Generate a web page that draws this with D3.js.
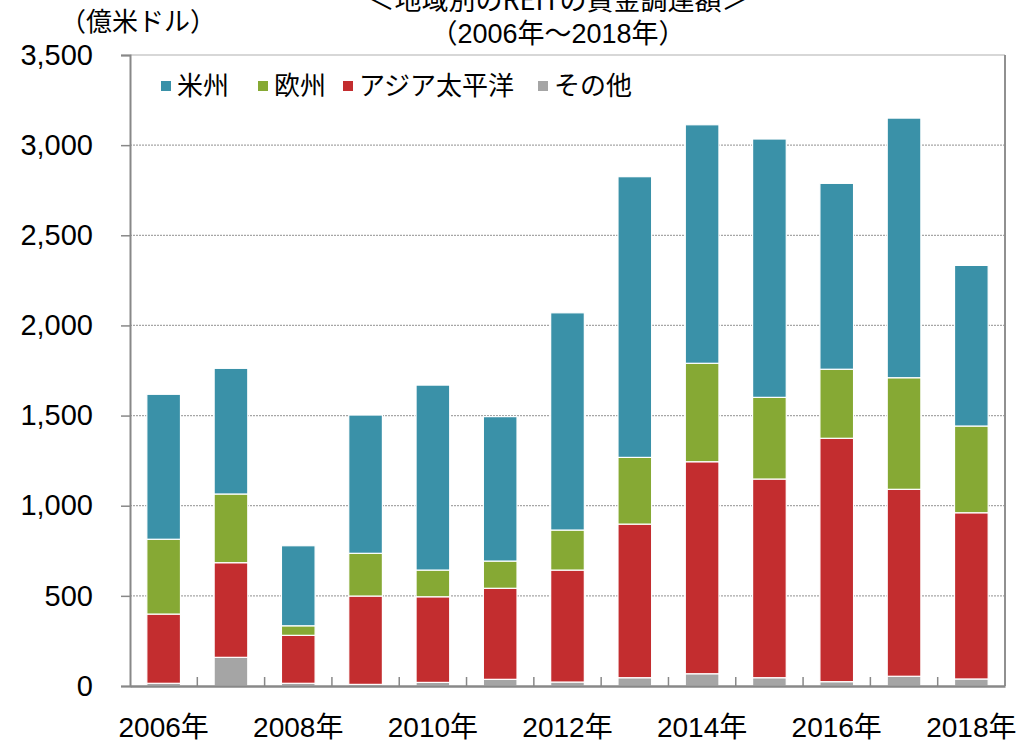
<!DOCTYPE html>
<html><head><meta charset="utf-8">
<script src="https://cdn.jsdelivr.net/npm/d3@7"></script>
<style>
body{margin:0;background:#fff;}
text{font-family:"Liberation Sans","Noto Sans CJK JP",sans-serif;fill:#000;}
.jp{font-family:"Noto Sans CJK JP","Liberation Sans",sans-serif;}
</style></head>
<body><svg id="c" width="1019" height="742"></svg>
<script>
const years = ["2006","2007","2008","2009","2010","2011","2012","2013","2014","2015","2016","2017","2018"];
const seriesNames = ["その他","アジア太平洋","欧州","米州"];
const other    = [15,159,15,9,20,37,22,46,68,46,24,54,39];
const apac     = [384,525,266,490,475,505,621,852,1176,1102,1350,1037,922];
const europe   = [415,381,53,237,148,151,222,370,546,453,383,619,481];
const americas = [804,697,444,767,1026,801,1205,1557,1323,1433,1031,1440,891];
const colors = ["#A5A5A5","#C32D2F","#86A934","#3A91A8"];
const yTicks = [0,500,1000,1500,2000,2500,3000,3500];
const xLabelYears = ["2006","2008","2010","2012","2014","2016","2018"];
const legendOrder = ["米州","欧州","アジア太平洋","その他"];

const svg = d3.select("#c");
const L=130,R=1005,T=55,B=686;
const x = d3.scaleBand().domain(years).range([L,R]).paddingInner(0.5).paddingOuter(0.25);
const y = d3.scaleLinear().domain([0,3500]).range([B,T]);

const rows = years.map((yr,i)=>({year:yr,"その他":other[i],"アジア太平洋":apac[i],"欧州":europe[i],"米州":americas[i]}));
const stack = d3.stack().keys(seriesNames)(rows);

// gridlines
svg.append("g").selectAll("line").data(yTicks.filter(v=>v>0&&v<3500)).join("line")
  .attr("x1",L).attr("x2",R).attr("y1",d=>y(d)).attr("y2",d=>y(d))
  .attr("stroke","#a6a6a6").attr("stroke-width",1.2).attr("stroke-dasharray","2,1");
// frame
svg.append("line").attr("x1",L).attr("x2",R).attr("y1",T).attr("y2",T).attr("stroke","#b0b0b0").attr("stroke-width",1.2);
svg.append("line").attr("x1",R).attr("x2",R).attr("y1",T).attr("y2",B).attr("stroke","#909090").attr("stroke-width",2);

// bars
svg.append("g").selectAll("g").data(stack).join("g")
  .attr("fill",(d,i)=>colors[i])
  .selectAll("rect").data(d=>d).join("rect")
  .attr("x",d=>x(d.data.year)).attr("width",x.bandwidth())
  .attr("y",d=>y(d[1])).attr("height",d=>y(d[0])-y(d[1]))
  .attr("stroke","#fff").attr("stroke-width",1.2);

// y axis
const ya = svg.append("g").attr("transform",`translate(${L},0)`)
  .call(d3.axisLeft(y).tickValues(yTicks).tickFormat(d3.format(",")).tickSize(9).tickPadding(28));
ya.select(".domain").attr("stroke","#888").attr("stroke-width",2);
ya.selectAll(".tick line").attr("stroke","#888").attr("stroke-width",1.5);
ya.selectAll("text").style("font-size","29px").attr("fill","#000");

// x axis
const xa = svg.append("g").attr("transform",`translate(0,${B})`)
  .call(d3.axisBottom(x).tickValues([]).tickSizeOuter(0));
xa.select(".domain").attr("stroke","#888").attr("stroke-width",2.5);
svg.append("g").selectAll("line").data(years.slice(1)).join("line")
  .attr("x1",d=>x(d)-x.step()*x.paddingInner()/2).attr("x2",d=>x(d)-x.step()*x.paddingInner()/2)
  .attr("y1",B).attr("y2",B-9).attr("stroke","#888").attr("stroke-width",1.5);
svg.append("g").selectAll("text").data(xLabelYears).join("text")
  .attr("x",d=>x(d)+x.bandwidth()/2).attr("y",737).attr("text-anchor","middle")
  .style("font-size","28px").text(d=>d+"年");

// titles
svg.append("text").attr("class","jp").attr("x",558).attr("y",10).attr("text-anchor","middle")
  .style("font-size","27px").text("＜地域別のREITの資金調達額＞");
svg.append("text").attr("x",558).attr("y",43).attr("text-anchor","middle")
  .style("font-size","27px").text("（2006年～2018年）");
svg.append("text").attr("class","jp").attr("x",138).attr("y",31).attr("text-anchor","middle")
  .style("font-size","26px").text("（億米ドル）");

// legend
const legX = [161,258,343,538];
const lg = svg.append("g").selectAll("g").data(legendOrder).join("g")
  .attr("transform",(d,i)=>`translate(${legX[i]},0)`);
lg.append("rect").attr("x",0).attr("y",81).attr("width",10).attr("height",10)
  .attr("fill",d=>colors[seriesNames.indexOf(d)]);
lg.append("text").attr("class","jp").attr("x",16).attr("y",95).style("font-size","26px").text(d=>d);
</script></body></html>
